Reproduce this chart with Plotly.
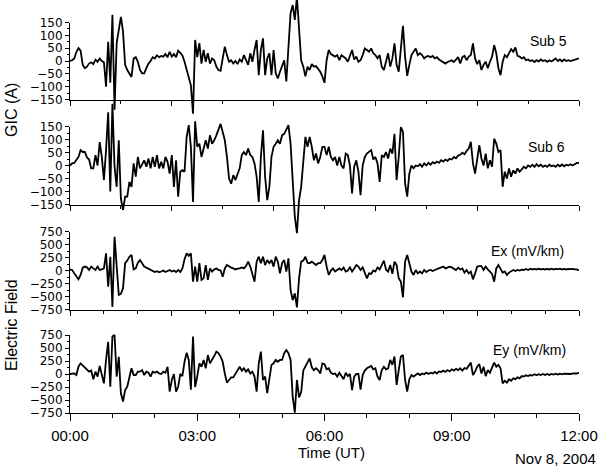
import pandas as pd
import plotly.graph_objects as go

# ---- data: 3-minute samples, 00:00 to 12:00 UT, Nov 8 2004 ----
times = pd.date_range("2004-11-08 00:00", "2004-11-08 12:00", freq="3min")

sub5 = [0, 3, 10, 35, 50, 40, -15, -28, -22, -10,
        -5, -12, 5, -3, 10, 0, -5, -100, 75, -85,
        180, -190, 70, 115, 172, 115, -15, -35, -48, -62,
        10, 15, -3, -35, -48, -48, -28, -10, 0, 15,
        10, 22, 15, 20, 17, 27, 15, 36, 17, 27,
        15, 40, 32, 22, -3, -35, -74, -95, -205, 82,
        15, 70, -10, 43, -3, 30, -10, 10, 3, -22,
        -35, -38, 10, 56, 23, -3, 3, -10, 0, -12,
        6, -3, 23, 3, -15, 30, -3, 43, 82, -55,
        43, 88, -55, 10, 30, -55, 43, -48, -68, -42,
        -22, 3, -80, 43, 186, 218, 160, 250, 108, 3,
        -22, -60, -22, -35, -12, -22, -20, -32, -42, -60,
        -85, 3, 43, 27, 23, 17, 23, 3, 23, 17,
        10, -3, 17, 43, 6, 17, -3, 3, 23, 49,
        43, 36, 49, 30, 23, 10, 23, -22, -35, -3,
        30, -22, 10, 69, -15, -42, 43, 137, 17, -58,
        -15, 23, 36, 49, 23, 30, 23, 10, 17, 20,
        15, 20, 10, 15, 6, 0, -6, -10, -4, -2,
        3, -4, 6, 15, -10, 15, 20, 3, 17, 23,
        69, 10, -12, 3, -35, -15, -3, -28, -3, 17,
        62, 30, -28, -55, -3, 23, 15, 30, 46, 36,
        53, 20, 17, 10, 15, 3, 6, 0, 3, -4,
        3, -2, 6, 0, 3, -3, 3, -2, 6, 10,
        0, 6, -2, 6, 0, 3, 0, 3, 6, 6, 10]

sub6 = [0, 8, 10, 20, 33, 59, 52, 52, 31, 23,
        -11, -11, 40, 0, 90, 33, -56, 59, 205, -100,
        237, -5, -82, 97, -128, -171, -120, -120, -63, -82,
        8, -43, 33, -11, 8, 20, -5, 27, -11, 33,
        -5, 40, -11, 14, -11, 33, 14, -31, 40, -82,
        20, -120, -24, -18, -24, 110, 155, 72, -140, 170,
        72, 84, 33, 65, 97, 65, 116, 84, 97, 116,
        135, 160, 129, 97, 33, -50, -70, -37, -56, -31,
        -11, 40, 52, 40, 65, 40, 33, 8, -43, -140,
        33, 135, -43, -133, -82, 33, 72, 84, 97, 84,
        116, 122, 142, 155, 84, -82, -197, -260, -133, -82,
        33, 110, 72, 110, 72, 20, 46, 8, 33, 72,
        72, 40, 72, 33, 20, 33, 0, 33, 0, -11,
        46, 40, 0, -107, -5, 20, -24, -114, 0, 33,
        46, 52, 59, 23, 33, 8, -63, 40, 33, 52,
        27, 65, 46, 122, -56, 33, 148, 129, -69, -120,
        -31, 0, -11, 0, -3, 5, -5, 8, 0, 10,
        3, 13, 8, 15, 10, 20, 15, 23, 18, 26,
        23, 33, 28, 38, 41, 49, 43, 56, 65, 91,
        8, -31, 33, 78, 27, 0, 46, -11, 20, -5,
        103, 84, 52, 59, -82, -24, -50, -11, -43, -18,
        -31, -11, -24, -15, -5, -11, 0, -5, 3, -5,
        5, -3, 3, -5, 0, -5, 3, -3, 0, -5,
        3, -3, 4, -3, 3, 0, 5, 0, 5, 10, 10]

ex = [20, 10, -55, -105, -170, -85, 55, 75, 60, 10,
      75, 40, 10, 75, 10, 20, 40, 330, -310, 265,
      -700, 650, 150, -470, -450, -340, 140, 190, 265, 300,
      20, 40, 150, 200, 140, 75, 55, 35, 10, -20,
      -30, -15, -35, -20, 0, -30, -10, 10, -20, 0,
      -30, 10, -30, 40, 215, 330, 280, 330, -215, 75,
      -215, 140, -180, -150, 105, -180, 40, -20, 20, 40,
      10, 0, -120, 40, 105, 75, 55, 40, 20, 35,
      40, 60, 40, 85, 170, 75, -65, -215, 170, 265,
      140, 265, 105, 200, 140, 200, 75, 265, 170, -55,
      140, 200, -20, 235, -375, -570, -440, -710, -150, 170,
      190, 265, 150, 140, 170, 140, 105, 140, 140, 200,
      300, 75, -85, 0, 40, -20, 10, 40, 10, 55,
      -20, 0, 60, -20, 40, 105, 75, 10, 60, -65,
      -150, -55, -65, 0, -20, 60, 20, 105, 190, 20,
      -20, 105, -65, 170, 105, -150, -215, -515, 170, 300,
      105, -20, -85, 10, -55, -20, -55, 10, -30, 0,
      10, -10, 10, 30, 35, 55, 75, 40, 55, 75,
      60, 40, 10, 55, 20, 40, -40, 10, -55, -20,
      -170, -55, 75, 85, 85, 10, 75, 20, -20, -65,
      -215, 40, 105, 40, -40, -20, -85, -40, -20, 10,
      -10, 10, 0, 15, 10, 30, 10, 35, 20, 30,
      20, 35, 20, 30, 20, 30, 20, 35, 20, 30,
      25, 35, 20, 30, 20, 30, 25, 30, 20, 20, 0]

ey = [0, 0, 10, -20, 140, 205, 160, 130, 75, 45,
      65, -100, 45, -50, 155, -20, -180, 270, 620, -245,
      720, 750, -50, 330, -370, -530, -310, -245, -85, 110,
      -20, -20, 45, 45, 75, -20, 45, 25, -50, 45,
      25, 45, 10, 0, 45, 25, 140, -340, -115, 0,
      -340, -245, 0, -40, 235, 410, 270, -300, 720, -250,
      -50, 205, 140, 270, 110, 365, 205, 270, 345, 430,
      400, 335, 235, 10, -165, -115, -65, -65, 10, 75,
      140, 65, 110, 45, 90, 10, 45, -50, -340, 205,
      430, -115, -50, -370, -115, 175, 205, 270, 235, 270,
      270, 400, 460, 400, 270, -435, -745, -115, -450, -350,
      65, 140, 205, 300, 130, 75, 110, 75, 10, 205,
      190, 90, 110, 25, 0, 10, -50, 25, -40, -100,
      25, -40, 0, -310, -50, 0, 0, -300, -20, 65,
      110, 140, 155, 90, 110, -50, -115, 75, 140, 90,
      110, 270, 175, 335, -210, 75, 335, 365, -115, -340,
      -100, -20, -50, -20, 10, -20, 10, -5, 25, 0,
      25, 10, 40, 10, 50, 40, 65, 40, 75, 50,
      90, 65, 100, 75, 110, 65, 115, 100, 155, 220,
      -20, 45, 140, 190, 10, 140, -40, 75, 25, 140,
      220, 140, 175, 110, -180, -130, -165, -100, -130, -85,
      -100, -65, -85, -40, -50, -25, -40, -20, -30, -5,
      -25, -5, -20, 0, -20, 0, -20, 0, -10, 5,
      -10, 5, -5, 5, 0, 5, 0, 10, 5, 10, 25]

series = [sub5, sub6, ex, ey]
panel_labels = ["Sub 5", "Sub 6", "Ex (mV/km)", "Ey (mV/km)"]
y_ranges = [[-150, 150], [-150, 150], [-750, 750], [-750, 750]]
y_dticks = [50, 50, 250, 250]

# ---- layout geometry (pixels) ----
W, H = 600, 467
L, R = 70, 21
PW = W - L - R
FONT = "Liberation Sans, Arial, sans-serif"
TICKFONT = "DejaVu Sans, Verdana, sans-serif"

def fy(px):
    return 1 - px / H

def fx(px):
    return (px - L) / PW

panel_px = [(22.5, 99.5), (126.5, 204.5), (231.5, 309.5), (335, 413)]
HOUR = 3600000
x_major = [2.4 * HOUR, 2.4 * HOUR, 2.4 * HOUR, 3 * HOUR]
x_minor = [1.2 * HOUR, 1.2 * HOUR, 0.8 * HOUR, 1 * HOUR]
label_pos = [(548, 40.7), (546, 146.7), (527.5, 250.7), (529, 350)]

t0, t1 = "2004-11-08 00:00", "2004-11-08 12:00"

fig = go.Figure()
layout = dict(
    width=W, height=H,
    margin=dict(l=L, r=R, t=0, b=0, pad=0, autoexpand=False),
    paper_bgcolor="white", plot_bgcolor="rgba(0,0,0,0)",
    showlegend=False,
    font=dict(family=FONT, color="black", size=14),
)

for i in range(4):
    n = i + 1
    top, bot = panel_px[i]
    d0, d1 = fy(bot), fy(top)
    r0, r1 = y_ranges[i]
    bottom = (i == 3)
    xa = dict(
        domain=[0, 1], range=[t0, t1], type="date", anchor=f"y{n}",
        showline=True, linecolor="black", linewidth=1,
        showgrid=False, zeroline=False, automargin=False,
        ticks="outside", ticklen=7 if bottom else 5, tickwidth=1, tickcolor="black",
        tick0=t0, dtick=x_major[i],
        minor=dict(ticks="outside", tick0=t0, dtick=x_minor[i],
                   ticklen=4 if bottom else 3, tickwidth=1, tickcolor="black",
                   showgrid=False),
        showticklabels=bottom,
        tickformat="%H:%M",
        tickfont=dict(family=FONT, size=15, color="black"),
        ticklabelstandoff=2,
        fixedrange=True,
    )
    ya = dict(
        domain=[d0, d1], range=[r0, r1], anchor=f"x{n}",
        showline=True, linecolor="black", linewidth=1,
        showgrid=False, zeroline=False, automargin=False,
        ticks="outside", ticklen=4, tickwidth=1, tickcolor="black",
        tick0=0, dtick=y_dticks[i],
        minor=dict(ticks="outside", dtick=y_dticks[i] / 2, ticklen=2.5,
                   tickwidth=1, tickcolor="black", showgrid=False),
        tickfont=dict(family=TICKFONT, size=12, color="black"),
        ticklabelstandoff=0,
        fixedrange=True,
    )
    layout["xaxis" if n == 1 else f"xaxis{n}"] = xa
    layout["yaxis" if n == 1 else f"yaxis{n}"] = ya

    # invisible data axis with the same scale, spanning the full height,
    # so traces can run past their panel as in the original
    s = (r1 - r0) / (d1 - d0)
    layout[f"yaxis{n + 4}"] = dict(
        domain=[0, 1], range=[r0 - d0 * s, r0 + (1 - d0) * s],
        anchor="x4", visible=False, fixedrange=True, automargin=False,
    )
    # empty trace registers the display subplot so its axes are drawn
    fig.add_trace(go.Scatter(x=[], y=[], xaxis=f"x{n}", yaxis=f"y{n}",
                             mode="lines", hoverinfo="skip"))

for i in range(4):
    n = i + 1
    fig.add_trace(go.Scatter(
        x=times, y=series[i], xaxis="x4", yaxis=f"y{n + 4}",
        mode="lines", line=dict(color="black", width=1.8),
        hoverinfo="skip",
    ))

fig.update_layout(**layout)

ann = []
for i in range(4):
    px, py = label_pos[i]
    ann.append(dict(text=panel_labels[i], x=fx(px), y=fy(py), xref="paper", yref="paper",
                    xanchor="center", yanchor="middle", showarrow=False,
                    font=dict(family=FONT, size=14, color="black")))
ann.append(dict(text="GIC (A)", x=fx(11), y=fy(110), xref="paper", yref="paper",
                xanchor="center", yanchor="middle", textangle=-90, showarrow=False,
                font=dict(family=FONT, size=16, color="black")))
ann.append(dict(text="Electric Field", x=fx(11), y=fy(325), xref="paper", yref="paper",
                xanchor="center", yanchor="middle", textangle=-90, showarrow=False,
                font=dict(family=FONT, size=16, color="black")))
ann.append(dict(text="Time (UT)", x=fx(331), y=fy(452), xref="paper", yref="paper",
                xanchor="center", yanchor="middle", showarrow=False,
                font=dict(family=FONT, size=15, color="black")))
ann.append(dict(text="Nov 8, 2004", x=fx(598), y=fy(458), xref="paper", yref="paper",
                xanchor="right", yanchor="middle", showarrow=False,
                font=dict(family=FONT, size=15, color="black")))
fig.update_layout(annotations=ann)

fig.write_html("out.html", config={"displayModeBar": False},
               post_script="document.body.style.margin='0px';")
